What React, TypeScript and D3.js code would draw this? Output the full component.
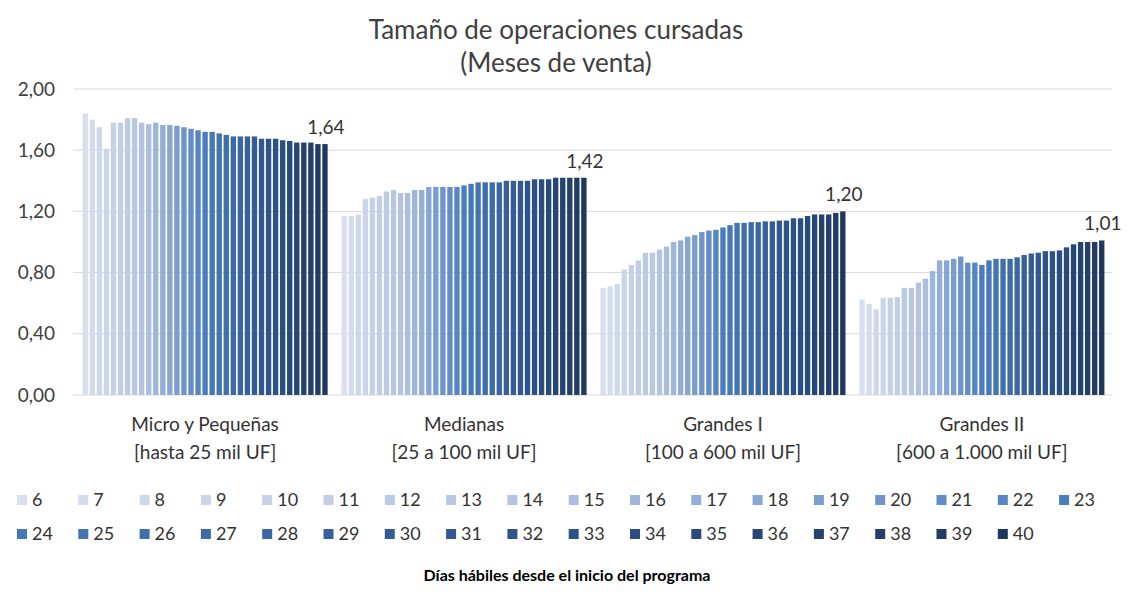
import React from "react";
import * as d3 from "d3";

const categoryNames = ["Micro y Pequeñas", "Medianas", "Grandes I", "Grandes II"];
const categoryRanges = ["[hasta 25 mil UF]", "[25 a 100 mil UF]", "[100 a 600 mil UF]", "[600 a 1.000 mil UF]"];

const days = ["6","7","8","9","10","11","12","13","14","15","16","17","18","19","20","21","22","23",
  "24","25","26","27","28","29","30","31","32","33","34","35","36","37","38","39","40"];

const microValues = [1.84,1.80,1.75,1.61,1.78,1.78,1.81,1.81,1.78,1.77,1.78,1.765,1.765,1.76,1.75,1.74,1.73,1.72,
  1.72,1.71,1.70,1.69,1.69,1.69,1.69,1.675,1.675,1.675,1.665,1.66,1.65,1.65,1.65,1.64,1.64];
const medianasValues = [1.17,1.17,1.18,1.28,1.29,1.30,1.33,1.34,1.32,1.32,1.34,1.34,1.36,1.36,1.36,1.36,1.36,1.37,
  1.38,1.39,1.39,1.39,1.39,1.40,1.40,1.40,1.40,1.41,1.41,1.41,1.42,1.42,1.42,1.42,1.42];
const grandesIValues = [0.70,0.71,0.725,0.82,0.85,0.88,0.93,0.93,0.95,0.97,1.00,1.01,1.035,1.045,1.065,1.075,1.08,1.095,
  1.11,1.125,1.125,1.13,1.13,1.135,1.135,1.14,1.14,1.155,1.155,1.17,1.18,1.18,1.18,1.19,1.20];
const grandesIIValues = [0.625,0.595,0.56,0.635,0.635,0.64,0.70,0.70,0.735,0.76,0.81,0.88,0.88,0.89,0.905,0.865,0.865,0.85,
  0.88,0.89,0.89,0.89,0.90,0.915,0.925,0.93,0.94,0.94,0.945,0.965,0.985,1.00,1.00,1.00,1.01];

const seriesByCategory = [microValues, medianasValues, grandesIValues, grandesIIValues];
const yTicks = [0, 0.4, 0.8, 1.2, 1.6, 2.0];

const titleLines = ["Tamaño de operaciones cursadas", "(Meses de venta)"];
const xAxisTitle = "Días hábiles desde el inicio del programa";

const FONT = "Lato, 'Open Sans', sans-serif";
const fmt = (v: number) => v.toFixed(2).replace(".", ",");

export default function App() {
  const W = 1129, H = 594;
  const x0 = d3.scaleBand<string>().domain(categoryNames).range([75, 1112]).paddingInner(0.047).paddingOuter(0.026);
  const x1 = d3.scaleBand<string>().domain(days).range([0, x0.bandwidth()]).paddingInner(0.24).paddingOuter(0.12);
  const y = d3.scaleLinear().domain([0, 2]).range([395, 89]);
  const color = d3.piecewise(d3.interpolateRgb, ["#d8dfee", "#b1c2e1", "#4a7dbf", "#2f568f", "#1e3862"]);
  const colorOf = (i: number) => color(i / (days.length - 1));

  const legendRows = [days.slice(0, 18), days.slice(18)];

  return (
    <div style={{ position: "absolute", left: 0, top: 0 }}>
      <svg width={W} height={H} style={{ display: "block", background: "#fff" }} fontFamily={FONT}>
        <text x={556} y={39} textAnchor="middle" fontSize={26} fill="#404040">{titleLines[0]}</text>
        <text x={556} y={72} textAnchor="middle" fontSize={26} fill="#404040">{titleLines[1]}</text>

        {yTicks.map((t) => (
          <g key={t}>
            <line x1={73} x2={1112} y1={y(t)} y2={y(t)} stroke="#d9d9d9" strokeWidth={1} />
            <text x={55} y={y(t)} dy="0.35em" textAnchor="end" fontSize={19} fill="#404040">{fmt(t)}</text>
          </g>
        ))}

        {categoryNames.map((c, ci) => (
          <g key={c} transform={`translate(${x0(c)},0)`}>
            {days.map((d, di) => {
              const v = seriesByCategory[ci][di];
              return (
                <rect key={d} x={x1(d)} y={y(v)} width={x1.bandwidth()} height={y(0) - y(v)} fill={colorOf(di)} />
              );
            })}
            <text
              x={(x1(days[days.length - 1]) as number) + x1.bandwidth() / 2 + 1}
              y={y(seriesByCategory[ci][days.length - 1]) - 10}
              textAnchor="middle" fontSize={19} fill="#333"
            >
              {fmt(seriesByCategory[ci][days.length - 1])}
            </text>
            <text x={x0.bandwidth() / 2} y={431} textAnchor="middle" fontSize={19} fill="#333">{c}</text>
            <text x={x0.bandwidth() / 2} y={459} textAnchor="middle" fontSize={19} fill="#333">{categoryRanges[ci]}</text>
          </g>
        ))}

        {legendRows.map((row, ri) =>
          row.map((d, i) => {
            const di = ri * 18 + i;
            const lx = 17 + i * 61.3;
            const ly = ri === 0 ? 500 : 534;
            return (
              <g key={d}>
                <rect x={lx} y={ly - 5} width={10} height={10} fill={colorOf(di)} />
                <text x={lx + 15} y={ly} dy="0.35em" fontSize={18} fill="#333">{d}</text>
              </g>
            );
          })
        )}

        <text x={567} y={581} textAnchor="middle" fontSize={16} fontWeight="bold" fill="#000">{xAxisTitle}</text>
      </svg>
    </div>
  );
}
